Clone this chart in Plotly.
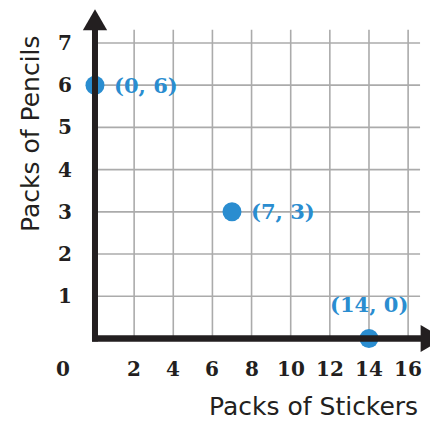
import plotly.graph_objects as go

# Data
stickers = [0, 7, 14]
pencils = [6, 3, 0]
x_ticks = [2, 4, 6, 8, 10, 12, 14, 16]
y_ticks = [1, 2, 3, 4, 5, 6, 7]
x_title = "Packs of Stickers"
y_title = "Packs of Pencils"

BLUE = "#2a8dd0"
GRID = "#ababab"
INK = "#231f20"
W, H = 430, 423

# Axis ranges chosen so the whole window is the plotting area
X_RANGE = [-4.854, 17.118]
Y_RANGE = [-2.001, 8.017]
GRID_TOP = 7.31
GRID_RIGHT = 16.61

fig = go.Figure()

shapes = []
for xv in x_ticks:
    shapes.append(dict(type="line", x0=xv, x1=xv, y0=0, y1=GRID_TOP,
                       line=dict(color=GRID, width=1.6), layer="below"))
for yv in y_ticks:
    shapes.append(dict(type="line", x0=0, x1=GRID_RIGHT, y0=yv, y1=yv,
                       line=dict(color=GRID, width=1.6), layer="below"))

# Axis lines with arrowheads
shapes.append(dict(type="line", x0=0, x1=0, y0=-0.07, y1=7.32,
                   line=dict(color=INK, width=6)))
shapes.append(dict(type="line", x0=-0.15, x1=16.7, y0=0, y1=0,
                   line=dict(color=INK, width=6.5)))
shapes.append(dict(type="path", path="M -0.62 7.30 L 0.62 7.30 L 0 7.80 Z",
                   fillcolor=INK, line=dict(color=INK, width=0)))
shapes.append(dict(type="path", path="M 16.64 -0.32 L 16.64 0.32 L 17.80 0 Z",
                   fillcolor=INK, line=dict(color=INK, width=0)))

annotations = []
tick_font = dict(family="DejaVu Serif", size=20, color=INK, weight="bold")
for xv in x_ticks:
    annotations.append(dict(x=xv, y=0, text=str(xv), showarrow=False,
                            yshift=-30, font=tick_font))
for yv in y_ticks:
    annotations.append(dict(x=0, y=yv, text=str(yv), showarrow=False,
                            xshift=-30, font=tick_font))
annotations.append(dict(x=0, y=0, text="0", showarrow=False,
                        xshift=-31.5, yshift=-30, font=tick_font))

# Point labels built from the data
label_font = dict(family="DejaVu Serif", size=21, color=BLUE, weight="bold")
for xv, yv in zip(stickers, pencils):
    txt = f"({xv}, {yv})"
    if yv == 0:
        annotations.append(dict(x=xv, y=yv, text=txt, showarrow=False,
                                xanchor="center", yanchor="middle", yshift=34,
                                font=label_font))
    else:
        annotations.append(dict(x=xv, y=yv, text=txt, showarrow=False,
                                xanchor="left", yanchor="middle", xshift=17,
                                font=label_font))

title_font = dict(family="DejaVu Sans", size=25, color=INK)
annotations.append(dict(xref="paper", yref="paper", x=313 / W, y=0,
                        text=x_title, showarrow=False, xanchor="center",
                        yanchor="bottom", font=title_font))
annotations.append(dict(xref="paper", yref="paper", x=30 / W, y=1 - 134 / H,
                        text=y_title, showarrow=False, xanchor="center",
                        yanchor="middle", textangle=-90, font=title_font))

fig.add_trace(go.Scatter(
    x=stickers, y=pencils, mode="markers",
    marker=dict(size=19, color=BLUE, line=dict(width=0)),
    cliponaxis=False, hoverinfo="skip", showlegend=False,
))

fig.update_layout(
    width=W, height=H,
    margin=dict(l=0, r=0, t=0, b=0),
    paper_bgcolor="white", plot_bgcolor="white",
    xaxis=dict(range=X_RANGE, visible=False, fixedrange=True),
    yaxis=dict(range=Y_RANGE, visible=False, fixedrange=True),
    shapes=shapes,
    annotations=annotations,
    showlegend=False,
)

fig.write_html("out.html")
